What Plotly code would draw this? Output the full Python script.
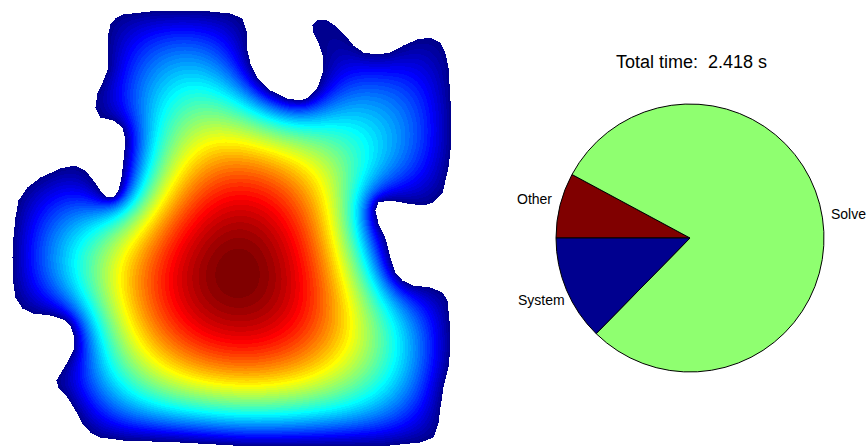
import numpy as np
import plotly.graph_objects as go

# ---------------- data ----------------
# outline of the solution domain (image units, y pointing down)
boundary_x = [108, 110, 115, 123, 150, 200, 230, 242, 246, 247, 250, 257, 270, 287, 300, 308, 317, 322,
              323, 318, 313, 312, 317, 327, 337, 345, 353, 363, 377, 390, 403, 417, 430, 440, 445, 448,
              450, 451, 450, 448, 445, 442, 433, 423, 407, 390, 378, 375, 378, 385, 390, 395, 402, 413,
              430, 442, 447, 449, 450, 448, 443, 440, 438, 433, 420, 390, 340, 233, 180, 123, 100, 90,
              82, 75, 67, 58, 56, 62, 68, 73, 74, 70, 63, 50, 33, 22, 15, 13, 12, 13, 15, 18, 27, 40,
              60, 75, 85, 93, 100, 107, 113, 118, 121, 123, 124, 125, 122, 113, 100, 95, 97, 103, 108, 108]
boundary_y = [33, 24, 18, 14, 11, 10, 13, 18, 30, 50, 63, 77, 90, 98, 100, 97, 87, 73,
              57, 42, 32, 25, 20, 20, 27, 35, 45, 52, 54, 52, 45, 39, 37, 42, 53, 67,
              100, 120, 150, 167, 180, 193, 202, 205, 203, 200, 202, 210, 223, 238, 257, 272, 280, 285,
              287, 292, 300, 320, 347, 367, 387, 407, 423, 437, 442, 445, 446, 445, 442, 440, 437, 432,
              423, 410, 397, 387, 380, 370, 360, 350, 337, 325, 319, 315, 313, 308, 297, 283, 257, 237, 217, 200, 187, 177,
              168, 165, 170, 180, 190, 197, 197, 190, 177, 160, 150, 140, 127, 120, 117, 107, 93, 80, 67, 50]

pie_labels = ["Other", "Solve", "System"]
pie_values = [0.190, 1.922, 0.306]
pie_colors = ["rgb(128,0,0)", "rgb(143,255,112)", "rgb(0,0,143)"]
total_time = 2.418

W, H = 867, 446

# ---------------- geometry helpers ----------------
def inside_poly(X, Y, px, py):
    res = np.zeros(X.shape, bool)
    n = len(px)
    j = n - 1
    with np.errstate(divide="ignore", invalid="ignore"):
        for i in range(n):
            xi, yi, xj, yj = px[i], py[i], px[j], py[j]
            if yi != yj:
                cond = ((yi > Y) != (yj > Y)) & (X < (xj - xi) * (Y - yi) / (yj - yi) + xi)
                res ^= cond
            j = i
    return res


def sor(u, inside, h, iters, omega):
    mask = inside.copy()
    mask[0, :] = mask[-1, :] = mask[:, 0] = mask[:, -1] = False
    I, J = np.indices(u.shape)
    red = mask & ((I + J) % 2 == 0)
    black = mask & ((I + J) % 2 == 1)
    nb = np.zeros_like(u)
    for _ in range(iters):
        for m in (red, black):
            nb[1:-1, 1:-1] = u[:-2, 1:-1] + u[2:, 1:-1] + u[1:-1, :-2] + u[1:-1, 2:]
            gs = 0.25 * (nb + h * h)
            u = np.where(m, u + omega * (gs - u), u)
    return u

# Poisson problem -lap(u) = 1 on the domain, u = 0 on its boundary
hc = 2.0
xc = np.arange(0, 464, hc)
yc = np.arange(0, 450, hc)
Xc, Yc = np.meshgrid(xc, yc)
inc = inside_poly(Xc, Yc, boundary_x, boundary_y)
uc = sor(np.zeros(Xc.shape), inc, hc, 1400, 1.96)

xs = np.arange(0, 464, 1.0)
ys = np.arange(0, 450, 1.0)
X, Y = np.meshgrid(xs, ys)
inf = inside_poly(X, Y, boundary_x, boundary_y)
u0 = np.repeat(np.repeat(uc, 2, axis=0), 2, axis=1)[:len(ys), :len(xs)]
u0 = np.where(inf, u0, 0.0)
u = sor(u0, inf, 1.0, 500, 1.97)
z = np.where(inf, u, np.nan)

# MATLAB-like jet(64), discrete
def jet(m=64):
    n = int(np.ceil(m / 4))
    uu = np.concatenate([np.arange(1, n + 1) / n, np.ones(n - 1), np.arange(n, 0, -1) / n])
    g = int(np.ceil(n / 2)) - (1 if m % 4 == 1 else 0) + np.arange(1, len(uu) + 1)
    r = g + n
    b = g - n
    Jm = np.zeros((m, 3))
    for col, idxs in ((0, r), (1, g), (2, b)):
        for idx, v in zip(idxs, uu):
            if 1 <= idx <= m:
                Jm[idx - 1, col] = v
    return Jm

cmap = jet(64)
colorscale = []
for i, c in enumerate(cmap):
    col = "rgb(%d,%d,%d)" % tuple(np.round(c * 255).astype(int))
    colorscale.append([i / 64, col])
    colorscale.append([(i + 1) / 64, col])

fig = go.Figure()
fig.add_trace(go.Heatmap(x=xs, y=ys, z=z, colorscale=colorscale, zmin=0, zmax=float(np.nanmax(z)),
                         showscale=False, hoverinfo="skip", xaxis="x", yaxis="y"))

# ---------------- pie ----------------
R = 134.0
cx, cy = 690.0, 238.0
fig.add_trace(go.Pie(labels=pie_labels, values=pie_values, sort=False, direction="clockwise",
                     rotation=270, textinfo="none", hoverinfo="skip", showlegend=False,
                     marker=dict(colors=pie_colors, line=dict(color="black", width=1)),
                     domain=dict(x=[(cx - R) / W, (cx + R) / W], y=[1 - (cy + R) / H, 1 - (cy - R) / H])))

annotations = []
tot = sum(pie_values)
cum = 0.0
for lab, v in zip(pie_labels, pie_values):
    mid = np.deg2rad(180 - 360 * (cum + v / 2) / tot)
    cum += v
    px = cx + 1.2 * R * np.cos(mid)
    py = cy - 1.2 * R * np.sin(mid)
    annotations.append(dict(x=px / W, y=1 - py / H, xref="paper", yref="paper", text=lab,
                            showarrow=False, xanchor="center", yanchor="middle",
                            font=dict(family="Liberation Sans, Arial", size=14, color="black")))
annotations.append(dict(x=691 / W, y=1 - 62 / H, xref="paper", yref="paper",
                        text="Total time: \u00a0%.3f s" % total_time, showarrow=False,
                        xanchor="center", yanchor="middle",
                        font=dict(family="Liberation Sans, Arial", size=18, color="black")))

fig.update_layout(
    width=W, height=H, margin=dict(l=0, r=0, t=0, b=0),
    paper_bgcolor="white", plot_bgcolor="white", showlegend=False,
    xaxis=dict(domain=[0, 460 / W], range=[0, 460], visible=False, fixedrange=True),
    yaxis=dict(domain=[0, 1], range=[H, 0], visible=False, fixedrange=True),
    annotations=annotations,
)
fig.write_html("out.html", config={"displayModeBar": False},
               post_script="document.body.style.margin='0';document.body.style.overflow='hidden';")
